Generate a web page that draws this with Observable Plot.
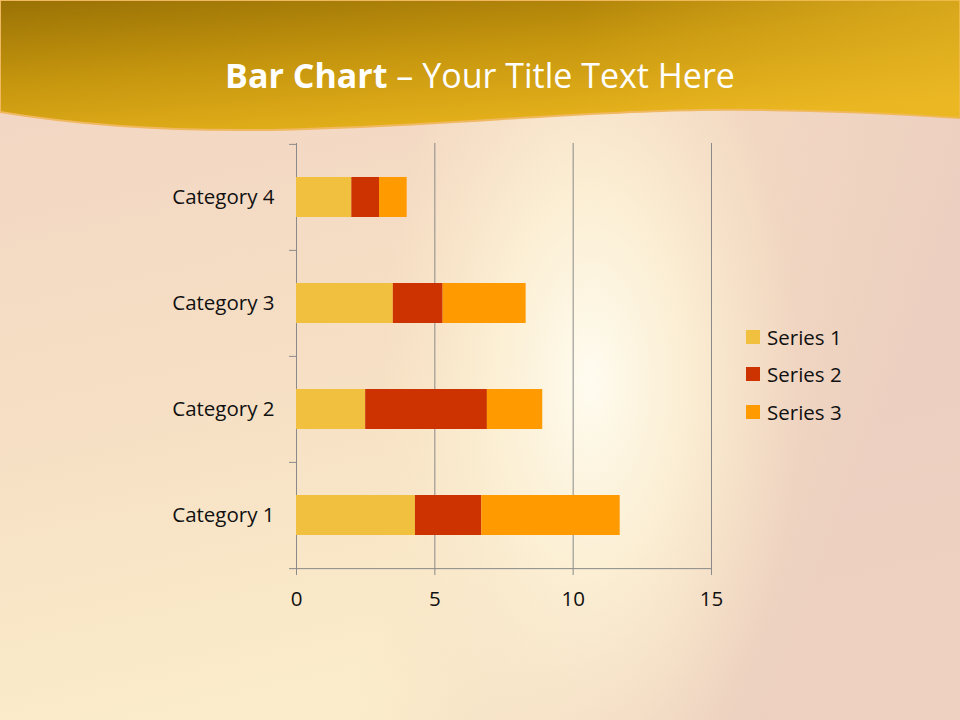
<!DOCTYPE html>
<html>
<head>
<meta charset="utf-8">
<script src="https://cdn.jsdelivr.net/npm/d3@7"></script>
<script src="https://cdn.jsdelivr.net/npm/@observablehq/plot@0.6"></script>
<style>
  html, body { margin: 0; padding: 0; }
  body { width: 960px; height: 720px; position: relative; overflow: hidden; font-family: "Open Sans", sans-serif; }
  #bg { position: absolute; left: 0; top: 0; }
  #title { position: absolute; left: 0; width: 960px; top: 51px; text-align: center; color: #fff; font-size: 34px; line-height: 48px; }
  #title b { font-weight: 700; }
  #chart { position: absolute; left: 0; top: 0; }
  #legend { position: absolute; left: 746px; top: 318px; }
  .li { display: flex; align-items: center; height: 37.5px; font-size: 20.5px; color: #111; }
  .sw { width: 14px; height: 14px; margin-right: 7px; }
</style>
</head>
<body>
<svg id="bg" width="960" height="720">
  <defs>
    <linearGradient id="base" x1="0" y1="0" x2="0.3" y2="1">
      <stop offset="0" stop-color="#F1D4C4"/>
      <stop offset="0.55" stop-color="#F6DFC4"/>
      <stop offset="1" stop-color="#FBEDCB"/>
    </linearGradient>
    <linearGradient id="rightside" x1="0" y1="0" x2="1" y2="0.3">
      <stop offset="0.6" stop-color="#EFD2C2" stop-opacity="0"/>
      <stop offset="1" stop-color="#EBCDBF" stop-opacity="0.9"/>
    </linearGradient>
    <radialGradient id="glow" cx="590" cy="380" r="300" gradientUnits="userSpaceOnUse" gradientTransform="translate(590 380) scale(0.7 1.4) translate(-590 -380)">
      <stop offset="0" stop-color="#FFFCF0" stop-opacity="1"/>
      <stop offset="0.45" stop-color="#FDF3D8" stop-opacity="0.8"/>
      <stop offset="1" stop-color="#FBEBCB" stop-opacity="0"/>
    </radialGradient>
    <linearGradient id="head" x1="0" y1="0" x2="0.55" y2="1">
      <stop offset="0" stop-color="#9A7205"/>
      <stop offset="0.5" stop-color="#C6960E"/>
      <stop offset="1" stop-color="#E8B41D"/>
    </linearGradient>
    <linearGradient id="headr" x1="0" y1="0" x2="1" y2="0">
      <stop offset="0.6" stop-color="#EDBC2A" stop-opacity="0"/>
      <stop offset="1" stop-color="#EDBC2A" stop-opacity="0.5"/>
    </linearGradient>
  </defs>
  <rect width="960" height="720" fill="url(#base)"/>
  <rect width="960" height="720" fill="url(#rightside)"/>
  <rect width="960" height="720" fill="url(#glow)"/>
  <path d="M0,0 H960 V118 C900,114 800,109 700,110 C560,112 420,128 260,130 C150,131 60,122 0,112 Z" fill="url(#head)" stroke="#F0B860" stroke-width="2"/>
  <path d="M0,0 H960 V118 C900,114 800,109 700,110 C560,112 420,128 260,130 C150,131 60,122 0,112 Z" fill="url(#headr)"/>
</svg>
<div id="title"><b>Bar Chart</b> – Your Title Text Here</div>
<div id="chart"></div>
<div id="legend"></div>
<script>
const categories = ["Category 1", "Category 2", "Category 3", "Category 4"];
const seriesNames = ["Series 1", "Series 2", "Series 3"];
const series1 = [4.3, 2.5, 3.5, 2];
const series2 = [2.4, 4.4, 1.8, 1];
const series3 = [5, 2, 3, 1];
const seriesColors = ["#F0C03E", "#CC3300", "#FF9A00"];
const xTicks = [0, 5, 10, 15];

const seriesValues = [series1, series2, series3];
const rows = [];
categories.forEach((c, i) => {
  seriesNames.forEach((s, j) => rows.push({category: c, series: s, value: seriesValues[j][i]}));
});

const plotTop = 143, plotBottom = 568;
const halfStep = (plotBottom - plotTop) / categories.length / 2;
const gray = "#8a8a8a";

const chart = Plot.plot({
  width: 960,
  height: 720,
  marginLeft: 296,
  marginRight: 249,
  marginTop: plotTop,
  marginBottom: 720 - plotBottom,
  style: {background: "transparent", overflow: "visible", fontFamily: "Open Sans, sans-serif"},
  x: {domain: [0, 15], ticks: xTicks},
  y: {domain: categories.slice().reverse(), paddingInner: 0.624, paddingOuter: 0.312},
  color: {domain: seriesNames, range: seriesColors},
  marks: [
    Plot.ruleX(xTicks, {stroke: gray, strokeWidth: 1}),
    Plot.ruleY(categories, {y: d => d, x1: -0.25, x2: 0, dy: -halfStep, stroke: gray}),
    Plot.ruleY(["Category 1"], {y: d => d, x1: -0.25, x2: 15, dy: halfStep, stroke: gray}),
    Plot.barX(rows, Plot.stackX({x: "value", y: "category", fill: "series"})),
    Plot.axisX({ticks: xTicks, tickSize: 7, tickPadding: 16, fontSize: 20.5, stroke: gray, color: "#111", tickFormat: d => String(d), label: null}),
    Plot.axisY({tickSize: 0, tickPadding: 22, fontSize: 20.5, color: "#111", label: null})
  ]
});
document.getElementById("chart").appendChild(chart);

const legend = document.getElementById("legend");
seriesNames.forEach((s, j) => {
  const row = document.createElement("div");
  row.className = "li";
  const sw = document.createElement("div");
  sw.className = "sw";
  sw.style.background = seriesColors[j];
  row.appendChild(sw);
  row.appendChild(document.createTextNode(s));
  legend.appendChild(row);
});
</script>
</body>
</html>
